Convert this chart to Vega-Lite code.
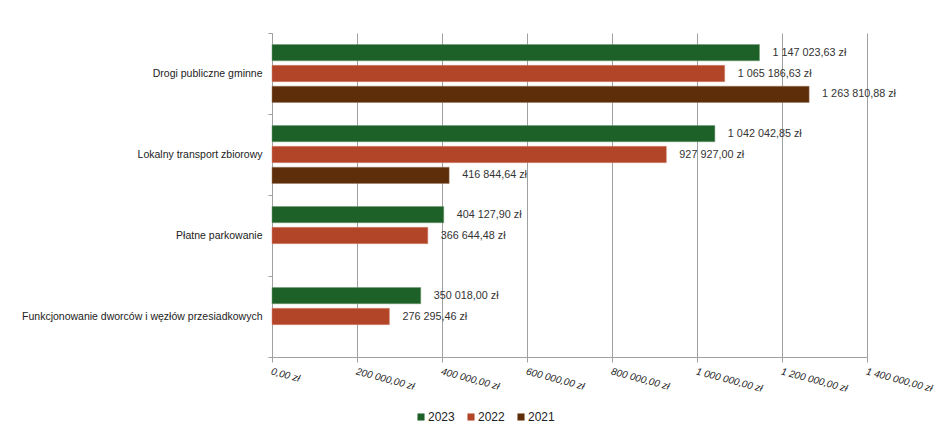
{
  "$schema": "https://vega.github.io/schema/vega-lite/v6.json",
  "width": 595,
  "height": 324,
  "autosize": {"type": "none"},
  "padding": {"left": 272, "top": 33, "right": 79, "bottom": 80},
  "background": "white",
  "config": {
    "locale": {
      "number": {"decimal": ",", "thousands": " ", "grouping": [3], "currency": ["", " zł"]}
    },
    "font": "Liberation Sans",
    "view": {"stroke": null}
  },
  "data": {
    "values": [
      {"kategoria": "Drogi publiczne gminne", "rok": "2023", "kwota": 1147023.63},
      {"kategoria": "Drogi publiczne gminne", "rok": "2022", "kwota": 1065186.63},
      {"kategoria": "Drogi publiczne gminne", "rok": "2021", "kwota": 1263810.88},
      {"kategoria": "Lokalny transport zbiorowy", "rok": "2023", "kwota": 1042042.85},
      {"kategoria": "Lokalny transport zbiorowy", "rok": "2022", "kwota": 927927.00},
      {"kategoria": "Lokalny transport zbiorowy", "rok": "2021", "kwota": 416844.64},
      {"kategoria": "Płatne parkowanie", "rok": "2023", "kwota": 404127.90},
      {"kategoria": "Płatne parkowanie", "rok": "2022", "kwota": 366644.48},
      {"kategoria": "Funkcjonowanie dworców i węzłów przesiadkowych", "rok": "2023", "kwota": 350018.00},
      {"kategoria": "Funkcjonowanie dworców i węzłów przesiadkowych", "rok": "2022", "kwota": 276295.46}
    ]
  },
  "encoding": {
    "y": {
      "field": "kategoria",
      "type": "nominal",
      "sort": ["Drogi publiczne gminne", "Lokalny transport zbiorowy", "Płatne parkowanie", "Funkcjonowanie dworców i węzłów przesiadkowych"],
      "scale": {"paddingInner": 0, "paddingOuter": 0},
      "axis": {
        "title": null,
        "domain": true,
        "domainColor": "#a0a0a0",
        "ticks": true,
        "tickColor": "#a0a0a0",
        "tickSize": 4,
        "tickBand": "extent",
        "labelFontSize": 10.5,
        "labelLimit": 400,
        "labelColor": "#222222",
        "labelPadding": 6,
        "grid": false
      }
    },
    "yOffset": {
      "field": "rok",
      "type": "nominal",
      "sort": ["2023", "2022", "2021"],
      "scale": {"paddingInner": 0.22, "paddingOuter": 0.55}
    },
    "x": {
      "field": "kwota",
      "type": "quantitative",
      "scale": {"domain": [0, 1400000], "nice": false},
      "axis": {
        "title": null,
        "format": "$,.2f",
        "values": [0, 200000, 400000, 600000, 800000, 1000000, 1200000, 1400000],
        "labelAngle": 15,
        "labelAlign": "left",
        "labelBaseline": "top",
        "labelFontSize": 10,
        "labelFontStyle": "italic",
        "labelColor": "#222222",
        "labelPadding": 4,
        "labelOverlap": false,
        "labelFlush": false,
        "domainColor": "#a0a0a0",
        "tickColor": "#a0a0a0",
        "tickSize": 5,
        "grid": true,
        "gridColor": "#a0a0a0",
        "gridWidth": 1
      }
    }
  },
  "layer": [
    {
      "mark": {"type": "bar", "strokeWidth": 1, "strokeOpacity": 0.5},
      "encoding": {
        "color": {
          "field": "rok",
          "type": "nominal",
          "scale": {"domain": ["2023", "2022", "2021"], "range": ["#1e6128", "#b24527", "#5e2d0a"]},
          "legend": {
            "title": null,
            "orient": "none",
            "direction": "horizontal",
            "legendX": 143,
            "legendY": 378,
            "symbolType": "square",
            "symbolSize": 50,
            "symbolStrokeWidth": 0,
            "labelFontSize": 12,
            "labelColor": "#222222",
            "labelOffset": 1,
            "columnPadding": 10
          }
        },
        "stroke": {
          "field": "rok",
          "type": "nominal",
          "scale": {"domain": ["2023", "2022", "2021"], "range": ["#6f9a73", "#d48a78", "#9a7a62"]},
          "legend": null
        }
      }
    },
    {
      "mark": {"type": "text", "align": "left", "baseline": "middle", "dx": 13, "fontSize": 10.8, "color": "#333333"},
      "encoding": {
        "text": {"field": "kwota", "type": "quantitative", "format": "$,.2f"}
      }
    }
  ]
}
